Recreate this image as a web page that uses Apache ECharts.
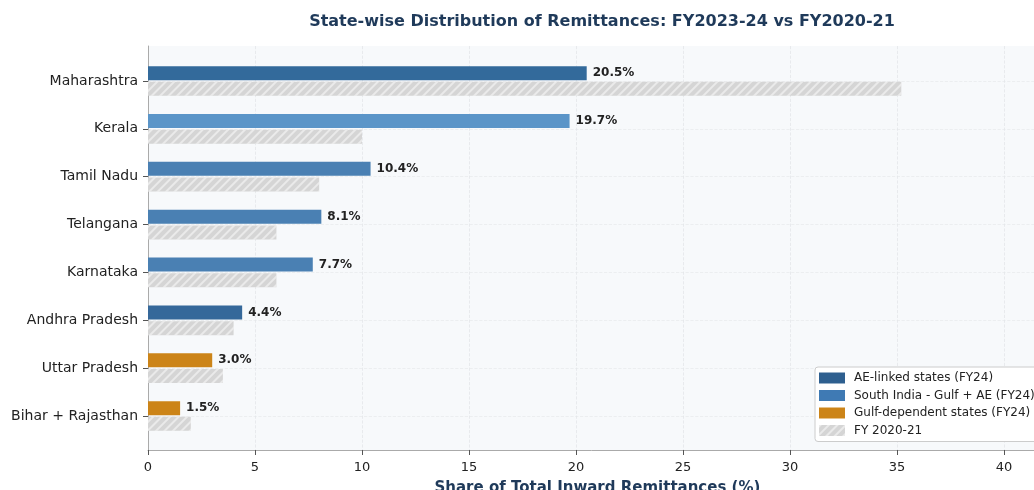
<!DOCTYPE html>
<html>
<head>
<meta charset="utf-8">
<script src="https://cdn.jsdelivr.net/npm/echarts@6/dist/echarts.min.js"></script>
<style>html,body{margin:0;padding:0;background:#fff}#c{width:1034px;height:490px}</style>
</head>
<body>
<div id="c"></div>
<script>
const states = ['Maharashtra','Kerala','Tamil Nadu','Telangana','Karnataka','Andhra Pradesh','Uttar Pradesh','Bihar + Rajasthan'];
const fy24 = [20.5, 19.7, 10.4, 8.1, 7.7, 4.4, 3.0, 1.5];
const fy21 = [35.2, 10.0, 8.0, 6.0, 6.0, 4.0, 3.5, 2.0];
const group = ['ae','south','south','south','south','ae','gulf','gulf'];

const groupNames = {ae:'AE-linked states (FY24)', south:'South India - Gulf + AE (FY24)', gulf:'Gulf-dependent states (FY24)'};
const groupColors = {ae:'#2e5f8f', south:'#3f7ab4', gulf:'#cc8418'};
const barColors = ['#336a9b','#5b95c8','#4a80b3','#4a80b3','#4a80b3','#35689a','#cc8418','#cc8418'];

const chart = echarts.init(document.getElementById('c'));
const XMAX = 42;

function groupSeries(g){
  return {
    name: groupNames[g], type:'bar', stack:'fy24', xAxisIndex:0, yAxisIndex:0,
    barWidth:14, barGap:'12%', clip:false,
    itemStyle:{color:groupColors[g]},
    data: fy24.map((v,i)=> group[i]===g ? {value:v, itemStyle:{color:barColors[i]}} : '-'),
    label:{show:true, position:'right', distance:6, fontFamily:'DejaVu Sans', fontWeight:'bold', fontSize:12, color:'#222',
      formatter:p=> p.value.toFixed(1)+'%'},
    z:3
  };
}

chart.setOption({
  animation:false,
  backgroundColor:'#ffffff',
  title:{text:'State-wise Distribution of Remittances: FY2023-24 vs FY2020-21', left:597, textAlign:'center', top:9,
    textStyle:{fontFamily:'DejaVu Sans', fontSize:16, fontWeight:'bold', color:'#1f3a5a'}},
  grid:[
    {left:148, width:XMAX*21.4, top:81, bottom:74, containLabel:false, outerBoundsMode:'none'},
    {left:148, width:XMAX*21.4, top:46, bottom:40, show:true, backgroundColor:'#f7f9fb', borderWidth:0, z:0, containLabel:false, outerBoundsMode:'none'}
  ],
  legend:{
    orient:'vertical', left:815, top:367, itemWidth:26, itemHeight:11, itemGap:5.5, icon:'rect',
    padding:[5,6,5,4],
    backgroundColor:'#ffffff', borderColor:'#cccccc', borderWidth:1, borderRadius:3,
    textStyle:{fontFamily:'DejaVu Sans', fontSize:12, color:'#222', padding:[0,0,0,4]},
    data:[groupNames.ae, groupNames.south, groupNames.gulf, 'FY 2020-21']
  },
  xAxis:[
    {type:'value', gridIndex:0, min:0, max:XMAX, interval:5, show:false},
    {type:'value', gridIndex:1, min:0, max:XMAX, interval:5,
      axisLine:{show:true, lineStyle:{color:'#aaaaaa', width:1}},
      axisTick:{show:true, length:5, lineStyle:{color:'#555'}},
      axisLabel:{showMaxLabel:false, fontFamily:'DejaVu Sans', fontSize:13, color:'#222', margin:11},
      splitLine:{show:true, lineStyle:{color:'#e3e6ea', type:'dashed', width:0.8}},
      name:'Share of Total Inward Remittances (%)', nameLocation:'middle', nameGap:31,
      nameTextStyle:{fontFamily:'DejaVu Sans', fontSize:15, fontWeight:'bold', color:'#1f3a5a'}}
  ],
  yAxis:[
    {type:'category', gridIndex:0, data:states, inverse:true, boundaryGap:false,
      axisLine:{show:false},
      axisTick:{show:true, length:5, alignWithLabel:true, lineStyle:{color:'#555'}},
      axisLabel:{fontFamily:'DejaVu Sans', fontSize:14, color:'#222', margin:10},
      splitLine:{show:true, lineStyle:{color:'#e8ebee', type:'dashed', width:0.8}}},
    {type:'value', gridIndex:1, min:0, max:1, show:true,
      axisLine:{show:true, lineStyle:{color:'#aaaaaa', width:1}},
      axisTick:{show:false}, axisLabel:{show:false}, splitLine:{show:false}}
  ],
  series:[
    groupSeries('ae'), groupSeries('south'), groupSeries('gulf'),
    {name:'FY 2020-21', type:'bar', xAxisIndex:0, yAxisIndex:0, barWidth:14, clip:false,
      data:fy21,
      itemStyle:{color:'#d5d5d5',
        decal:{symbol:'rect', symbolSize:1, dashArrayX:[1,0], dashArrayY:[2,4], rotation:-Math.PI/4, color:'rgba(255,255,255,0.5)'}},
      z:3}
  ]
});
</script>
</body>
</html>
